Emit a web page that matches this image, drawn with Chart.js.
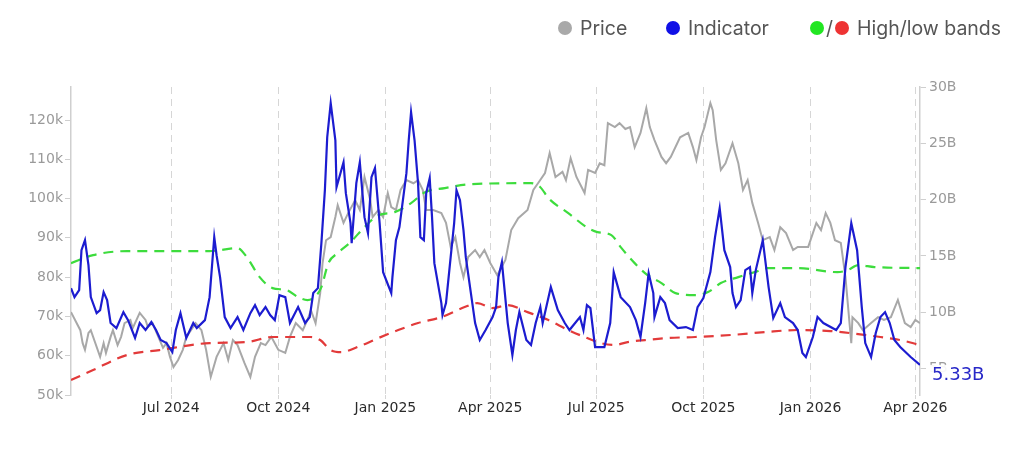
<!DOCTYPE html>
<html>
<head>
<meta charset="utf-8">
<script src="https://cdn.jsdelivr.net/npm/chart.js@4.4.0/dist/chart.umd.min.js"></script>
<style>
  body { margin: 0; background: #fff; }
  #wrap { position: relative; width: 1024px; height: 453px; }
  #legend { position: absolute; top: 0; left: 0; width: 1024px; height: 60px; font-family: Inter, 'Noto Sans', sans-serif; font-size: 19.5px; color: #555; }
  #legend .item { position: absolute; top: 17px; display: flex; align-items: center; height: 22px; white-space: nowrap; }
  #legend i { display: inline-block; width: 14px; height: 14px; border-radius: 50%; }
  #legend .txt { margin-left: 8px; }
  #legend .slash { margin: 0 2px; }
</style>
</head>
<body>
<div id="wrap">
  <canvas id="chart"></canvas>
  <div id="legend">
    <span class="item" style="left:558px"><i style="background:#a9a9a9"></i><span class="txt">Price</span></span>
    <span class="item" style="left:666px"><i style="background:#1010e6"></i><span class="txt">Indicator</span></span>
    <span class="item" style="left:810px"><i style="background:#22e622"></i><span class="slash">/</span><i style="background:#ee3333"></i><span class="txt">High/low bands</span></span>
  </div>
</div>
<script>
// x values are days since 2024-04-06
const startDate = Date.UTC(2024, 3, 6);
const quarterTicks = ['2024-07-01', '2024-10-01', '2025-01-01', '2025-04-01', '2025-07-01', '2025-10-01', '2026-01-01', '2026-04-01'];
const leftTicks = [50, 60, 70, 80, 90, 100, 110, 120];   // price, k
const rightTicks = [5, 10, 15, 20, 25, 30];               // indicator, B
const months = ['Jan', 'Feb', 'Mar', 'Apr', 'May', 'Jun', 'Jul', 'Aug', 'Sep', 'Oct', 'Nov', 'Dec'];

const priceDays = [
  0, 8, 10, 12, 15, 17, 25, 28, 30, 34,
  36, 40, 43, 46, 51, 53, 59, 64, 66, 70,
  75, 79, 82, 85, 88, 92, 96, 99, 103, 107,
  112, 116, 120, 125, 131, 135, 139, 143, 149, 154,
  158, 163, 167, 172, 178, 184, 188, 193, 199, 203,
  206, 210, 214, 216, 219, 223, 227, 229, 234, 238,
  244, 248, 252, 257, 259, 264, 268, 272, 275, 279,
  283, 288, 294, 298, 302, 305, 311, 318, 322, 326,
  330, 334, 337, 341, 347, 351, 355, 360, 366, 373,
  378, 384, 392, 397, 401, 407, 411, 416, 422, 425,
  429, 434, 441, 444, 450, 454, 458, 461, 467, 471,
  476, 480, 484, 489, 494, 497, 501, 507, 511, 515,
  523, 530, 534, 537, 541, 544, 549, 551, 554, 558,
  562, 568, 573, 577, 581, 585, 590, 594, 600, 604,
  609, 614, 620, 624, 633, 640, 644, 648, 652, 656,
  661, 665, 670, 671, 676, 680, 687, 693, 698, 704,
  710, 716, 721, 725, 729
];
const priceK = [
  71.1, 66.5, 63.2, 61.5, 65.8, 66.5, 59.7, 63.2, 60.7, 64.8,
  66.5, 62.7, 64.8, 68.3, 69.1, 67.0, 70.9, 69.1, 67.3, 68.3,
  64.8, 62.0, 63.2, 59.7, 57.1, 58.9, 61.5, 64.8, 66.5, 68.3,
  66.5, 61.5, 54.6, 59.7, 63.2, 58.9, 64.0, 62.7, 58.1, 54.6,
  59.7, 63.2, 62.7, 64.8, 61.5, 60.7, 64.8, 68.3, 66.5, 69.1,
  71.6, 68.3, 76.0, 83.6, 89.4, 90.2, 95.3, 98.3, 93.8, 96.3,
  99.6, 97.1, 105.5, 99.6, 95.3, 97.1, 95.3, 101.4, 97.8, 97.1,
  102.2, 104.7, 103.9, 104.7, 102.2, 97.1, 97.1, 96.3, 93.8, 87.7,
  90.2, 83.6, 80.0, 85.1, 86.9, 85.1, 86.9, 83.6, 80.5, 84.4,
  92.0, 95.0, 97.1, 102.2, 103.9, 106.5, 111.6, 105.5, 106.8, 104.7,
  110.3, 105.5, 101.4, 107.3, 106.5, 109.0, 108.5, 119.2, 118.2, 119.2,
  117.7, 118.2, 113.1, 116.7, 123.0, 118.2, 114.9, 110.6, 109.0, 110.6,
  115.6, 116.7, 113.1, 109.8, 115.6, 118.2, 124.3, 122.5, 114.9, 107.3,
  109.0, 114.1, 109.0, 102.2, 104.7, 98.9, 93.8, 89.4, 90.2, 86.9,
  92.7, 91.2, 86.9, 87.7, 87.7, 93.8, 92.0, 96.3, 93.8, 89.4,
  88.7, 80.0, 63.2, 69.8, 68.3, 66.5, 68.3, 69.8, 69.1, 69.8,
  74.2, 68.3, 67.3, 69.1, 68.3
];

const indicatorDays = [
  0, 3, 7, 9, 12, 15, 17, 22, 25, 28,
  31, 34, 39, 45, 49, 55, 59, 64, 69, 73,
  77, 82, 87, 90, 94, 99, 105, 108, 115, 119,
  123, 125, 128, 132, 137, 143, 148, 154, 158, 162,
  167, 171, 175, 179, 184, 188, 195, 201, 205, 208,
  212, 215, 218, 220, 223, 227, 228, 234, 236, 240,
  241, 245, 248, 252, 255, 258, 261, 265, 268, 275,
  276, 279, 282, 288, 290, 292, 295, 298, 300, 303,
  305, 308, 310, 312, 318, 319, 322, 326, 329, 331,
  334, 337, 339, 343, 347, 351, 356, 362, 365, 367,
  370, 375, 379, 382, 385, 391, 395, 399, 403, 405,
  412, 418, 424, 428, 437, 440, 443, 446, 450, 458,
  463, 466, 472, 480, 485, 489, 493, 496, 500, 501,
  506, 510, 514, 521, 528, 534, 538, 543, 549, 553,
  557, 561, 566, 568, 571, 575, 579, 583, 585, 588,
  594, 599, 603, 609, 613, 620, 624, 628, 631, 637,
  641, 646, 657, 661, 665, 670, 675, 679, 682, 687,
  691, 695, 699, 703, 707, 712, 721, 729
];
const indicatorB = [
  12.14, 11.34, 11.97, 15.51, 16.40, 14.18, 11.34, 9.92, 10.19, 11.79,
  11.08, 9.04, 8.59, 10.01, 9.30, 7.71, 9.04, 8.42, 9.13, 8.42,
  7.53, 7.26, 6.46, 8.42, 9.92, 7.71, 9.04, 8.59, 9.30, 11.34,
  16.67, 15.06, 13.12, 9.57, 8.59, 9.57, 8.42, 9.92, 10.63, 9.75,
  10.46, 9.75, 9.30, 11.52, 11.34, 9.04, 10.46, 9.04, 9.57, 11.70,
  12.14, 16.14, 20.84, 25.54, 28.56, 25.27, 21.10, 23.32, 20.57, 17.91,
  16.14, 21.46, 23.32, 18.44, 17.02, 21.99, 22.79, 17.91, 13.56, 11.70,
  13.12, 16.40, 17.56, 22.35, 25.27, 27.76, 25.27, 21.46, 16.67, 16.40,
  20.57, 21.90, 18.44, 14.36, 10.81, 9.75, 10.81, 14.89, 17.91, 20.84,
  19.95, 17.29, 14.89, 11.97, 9.04, 7.53, 8.42, 9.57, 10.46, 13.12,
  14.45, 9.04, 6.20, 8.42, 10.01, 7.53, 7.09, 9.04, 10.46, 9.04,
  12.23, 10.19, 9.04, 8.42, 9.57, 8.42, 10.63, 10.37, 6.91, 6.91,
  9.04, 13.56, 11.34, 10.46, 9.30, 7.80, 10.81, 13.47, 11.70, 9.57,
  11.34, 10.81, 9.30, 8.59, 8.68, 8.42, 10.46, 11.26, 13.56, 16.67,
  19.24, 15.51, 14.01, 11.70, 10.46, 11.08, 13.74, 14.01, 11.70, 13.74,
  16.40, 12.23, 9.48, 10.81, 9.57, 9.04, 8.42, 6.38, 6.02, 7.80,
  9.57, 9.04, 8.42, 9.04, 14.01, 17.91, 15.51, 10.46, 7.26, 6.02,
  8.15, 9.57, 10.01, 9.04, 7.53, 6.91, 6.02, 5.33
];

const highBandDays = [
  0, 19, 48, 119, 143, 151, 162, 173, 185, 195,
  203, 209, 215, 221, 229, 240, 252, 264, 278, 292,
  304, 321, 343, 395, 403, 410, 427, 444, 452, 464,
  472, 484, 495, 507, 519, 536, 547, 558, 573, 587,
  598, 624, 658, 667, 676, 690, 729
];
const highBandB = [
  14.36, 15.07, 15.43, 15.43, 15.69, 14.89, 13.12, 12.14, 11.97, 11.34,
  11.08, 11.34, 12.23, 14.36, 15.25, 16.22, 17.56, 18.62, 18.89, 19.69,
  20.66, 21.02, 21.37, 21.46, 21.10, 20.13, 18.80, 17.47, 17.11, 16.85,
  15.78, 14.36, 13.30, 12.59, 11.70, 11.52, 11.79, 12.59, 13.12, 13.56,
  13.92, 13.92, 13.56, 13.74, 14.18, 14.01, 13.92
];

const lowBandDays = [
  0, 19, 48, 76, 119, 151, 173, 206, 214, 223,
  232, 246, 264, 281, 298, 318, 338, 349, 362, 375,
  392, 410, 427, 441, 455, 467, 478, 493, 513, 536,
  567, 596, 624, 652, 676, 695, 712, 729
];
const lowBandB = [
  3.98, 4.87, 6.20, 6.64, 7.26, 7.35, 7.80, 7.80, 7.53, 6.64,
  6.46, 6.91, 7.71, 8.42, 9.04, 9.57, 10.46, 10.81, 10.37, 10.63,
  10.01, 9.30, 8.42, 7.80, 7.26, 7.09, 7.35, 7.53, 7.71, 7.80,
  7.98, 8.24, 8.42, 8.33, 8.06, 7.80, 7.53, 7.09
];

const dayOf = (s) => (Date.parse(s + 'T00:00:00Z') - startDate) / 86400000;
const toPoints = (days, vals) => days.map((d, i) => ({ x: d, y: vals[i] }));
const fmtDay = (d) => {
  const dt = new Date(startDate + Math.round(d) * 86400000);
  return `${months[dt.getUTCMonth()]} ${dt.getUTCFullYear()}`;
};

// blue value label at the end of the indicator line
const endLabel = {
  id: 'endLabel',
  afterDatasetsDraw(chart) {
    const meta = chart.getDatasetMeta(0);
    const pt = meta.data[meta.data.length - 1];
    if (!pt) return;
    const ctx = chart.ctx;
    const text = indicatorB[indicatorB.length - 1].toFixed(2) + 'B';
    ctx.save();
    ctx.font = '18px "DejaVu Sans"';
    const w = ctx.measureText(text).width;
    ctx.fillStyle = 'rgba(255,255,255,0.92)';
    ctx.fillRect(pt.x + 9, pt.y, w + 6, 21);
    ctx.fillStyle = '#2828c8';
    ctx.textBaseline = 'middle';
    ctx.fillText(text, pt.x + 12, pt.y + 11);
    ctx.restore();
  },
};

const tickFont = { family: 'DejaVu Sans', size: 14 };

new Chart(document.getElementById('chart'), {
  type: 'line',
  data: {
    datasets: [
      {
        label: 'Indicator',
        data: toPoints(indicatorDays, indicatorB),
        yAxisID: 'y1',
        borderColor: '#1c1cd0',
        borderWidth: 2.2,
        pointRadius: 0,
        tension: 0,
        order: 0,
      },
      {
        label: 'High band',
        data: toPoints(highBandDays, highBandB),
        yAxisID: 'y1',
        borderColor: '#3ddc3d',
        borderWidth: 2.2,
        borderDash: [10, 7],
        pointRadius: 0,
        cubicInterpolationMode: 'monotone',
        order: 1,
      },
      {
        label: 'Low band',
        data: toPoints(lowBandDays, lowBandB),
        yAxisID: 'y1',
        borderColor: '#e23a3a',
        borderWidth: 2.2,
        borderDash: [10, 7],
        pointRadius: 0,
        cubicInterpolationMode: 'monotone',
        order: 2,
      },
      {
        label: 'Price',
        data: toPoints(priceDays, priceK),
        yAxisID: 'y',
        borderColor: '#a8a8a8',
        borderWidth: 2,
        pointRadius: 0,
        tension: 0,
        order: 3,
      },
    ],
  },
  options: {
    responsive: true,
    maintainAspectRatio: false,
    animation: false,
    layout: { padding: { top: 87, left: 0, right: 0, bottom: 0 } },
    plugins: {
      legend: { display: false },
      tooltip: { enabled: false },
    },
    scales: {
      x: {
        type: 'linear',
        min: 0,
        max: 729,
        afterBuildTicks: (s) => {
          s.ticks = quarterTicks.map((d) => ({ value: dayOf(d) }));
        },
        afterFit: (s) => {
          s.height = 58;
        },
        ticks: {
          callback: (v) => fmtDay(v),
          color: '#2a2a2a',
          font: tickFont,
          maxRotation: 0,
          autoSkip: false,
          padding: 1,
        },
        grid: { color: '#d6d6d6', lineWidth: 1, tickLength: 4 },
        border: { display: false, dash: [7, 5] },
      },
      y: {
        position: 'left',
        min: 50,
        max: 128.4,
        afterBuildTicks: (s) => {
          s.ticks = leftTicks.map((v) => ({ value: v }));
        },
        afterFit: (s) => {
          s.width = 71;
        },
        ticks: { callback: (v) => `${v}k`, color: '#9a9a9a', font: tickFont, padding: 2 },
        grid: { drawOnChartArea: false, color: '#cfcfcf', tickLength: 6 },
        border: { color: '#cfcfcf', width: 1.5 },
      },
      y1: {
        position: 'right',
        min: 2.65,
        max: 30,
        afterBuildTicks: (s) => {
          s.ticks = rightTicks.map((v) => ({ value: v }));
        },
        afterFit: (s) => {
          s.width = 104;
        },
        ticks: { callback: (v) => `${v}B`, color: '#9a9a9a', font: tickFont, padding: 3 },
        grid: { drawOnChartArea: false, color: '#cfcfcf', tickLength: 6 },
        border: { color: '#cfcfcf', width: 1.5 },
      },
    },
  },
  plugins: [endLabel],
});
</script>
</body>
</html>
